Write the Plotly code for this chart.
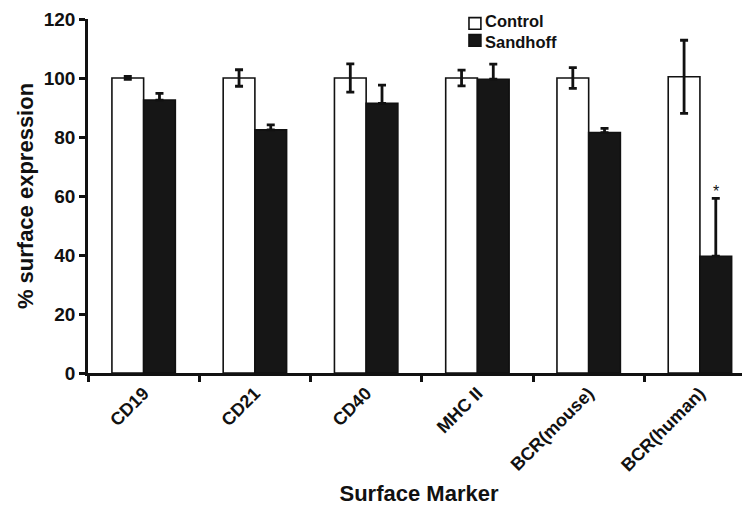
import plotly.graph_objects as go

categories = ["CD19", "CD21", "CD40", "MHC II", "BCR(mouse)", "BCR(human)"]
control = [100, 100, 100, 100, 100, 100.4]
control_err = [0.5, 2.8, 4.8, 2.7, 3.5, 12.4]
sandhoff = [92.5, 82.4, 91.4, 99.6, 81.5, 39.6]
sandhoff_err = [2.3, 1.7, 6.2, 5.1, 1.4, 19.6]
y_ticks = [0, 20, 40, 60, 80, 100, 120]
series_names = ["Control", "Sandhoff"]
series_fills = ["white", "#161616"]

FONT = "Liberation Sans, Arial, Helvetica, sans-serif"
INK = "#111111"

fig = go.Figure()
fig.add_trace(go.Bar(
    name=series_names[0], x=categories, y=control,
    marker=dict(color=series_fills[0], line=dict(color=INK, width=1.6)),
    error_y=dict(type="data", array=control_err, visible=True,
                 color=INK, thickness=2.8, width=4),
    showlegend=False,
))
fig.add_trace(go.Bar(
    name=series_names[1], x=categories, y=sandhoff,
    marker=dict(color=series_fills[1], line=dict(color=INK, width=1.6)),
    error_y=dict(type="data", symmetric=False, array=sandhoff_err,
                 arrayminus=[0] * len(sandhoff_err), visible=True,
                 color=INK, thickness=2.8, width=4),
    showlegend=False,
))

# significance asterisk on last Sandhoff bar
fig.add_annotation(
    x=5.1425, y=sandhoff[5] + sandhoff_err[5], xref="x", yref="y",
    text="*", showarrow=False, yanchor="bottom", yshift=-4,
    font=dict(family=FONT, size=16, color=INK),
)

# compact legend (square swatches + bold labels), as in the reference
legend_rows = [(1.004, 0.971), (0.956, 0.923)]
for fill, (y1, y0) in zip(series_fills, legend_rows):
    fig.add_shape(type="rect", xref="paper", yref="paper",
                  x0=0.5755, x1=0.5935, y0=y0, y1=y1,
                  fillcolor=fill, line=dict(color=INK, width=1.6))
fig.add_annotation(xref="paper", yref="paper", x=0.5985, y=0.964,
                   xanchor="left", yanchor="middle", showarrow=False,
                   align="left", borderpad=0,
                   text="<br>".join(series_names),
                   font=dict(family=FONT, size=16.5, color=INK, weight="bold"))

fig.update_layout(
    width=742, height=502,
    margin=dict(l=80, r=0, t=11, b=137, autoexpand=False),
    paper_bgcolor="white", plot_bgcolor="white",
    barmode="group", bargap=0.43, bargroupgap=0,
    font=dict(family=FONT, color=INK),
    showlegend=False,
)
fig.update_xaxes(
    range=[-0.5, 5.45], automargin=False,
    showline=True, linecolor=INK, linewidth=2.6,
    ticks="outside", tickson="boundaries", ticklen=6, tickwidth=2.6, tickcolor=INK,
    tickangle=-45,
    tickfont=dict(family=FONT, size=18, color=INK, weight="bold"),
    title=dict(text="Surface Marker", standoff=12,
               font=dict(family=FONT, size=22, color=INK, weight="bold")),
    showgrid=False, zeroline=False,
)
fig.update_yaxes(
    range=[0, 120], tickvals=y_ticks, automargin=False,
    ticklabeloverflow="allow",
    showline=True, linecolor=INK, linewidth=2.6,
    ticks="outside", ticklen=6, tickwidth=2.6, tickcolor=INK,
    tickfont=dict(family=FONT, size=19, color=INK, weight="bold"),
    title=dict(text="% surface expression", standoff=4,
               font=dict(family=FONT, size=22, color=INK, weight="bold")),
    showgrid=False, zeroline=False,
)

fig.write_html("out.html")
